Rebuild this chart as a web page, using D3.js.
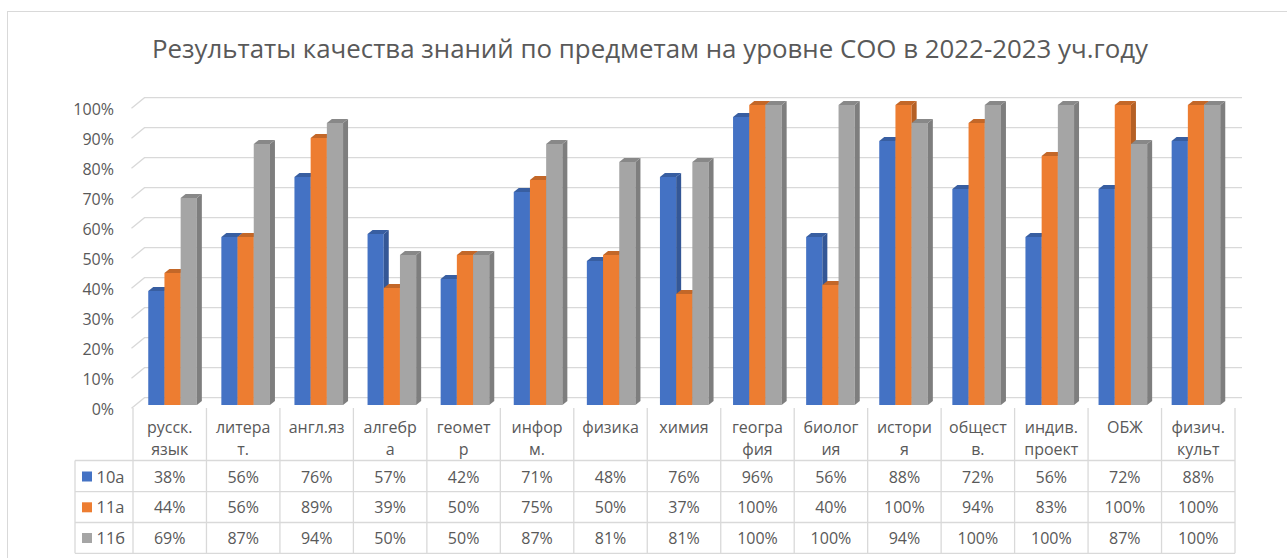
<!DOCTYPE html>
<html>
<head>
<meta charset="utf-8">
<script src="https://cdn.jsdelivr.net/npm/d3@7"></script>
<style>
  body { margin: 0; background: #fff; }
  svg { display: block; font-family: "Open Sans", "Noto Sans", sans-serif; }
</style>
</head>
<body>
<script>
// данные
const title = 'Результаты качества знаний по предметам на уровне СОО в 2022-2023 уч.году';
const categories = ['русск.\nязык', 'литера\nт.', 'англ.яз', 'алгебр\nа', 'геомет\nр', 'инфор\nм.',
  'физика', 'химия', 'геогра\nфия', 'биолог\nия', 'истори\nя', 'общест\nв.', 'индив.\nпроект', 'ОБЖ', 'физич.\nкульт'];
const seriesNames = ['10а', '11а', '11б'];
const values10a = [38, 56, 76, 57, 42, 71, 48, 76, 96, 56, 88, 72, 56, 72, 88];
const values11a = [44, 56, 89, 39, 50, 75, 50, 37, 100, 40, 100, 94, 83, 100, 100];
const values11b = [69, 87, 94, 50, 50, 87, 81, 81, 100, 100, 94, 100, 100, 87, 100];
const yTicks = [0, 10, 20, 30, 40, 50, 60, 70, 80, 90, 100];

const seriesValues = [values10a, values11a, values11b];
const colors = ['#4472C4', '#ED7D31', '#A5A5A5'];

const width = 1287;
const height = 558;
const textColor = '#595959';
const lineColor = '#d9d9d9';

const svg = d3.select('body')
  .append('svg')
  .attr('width', width)
  .attr('height', height);

// рамка диаграммы
svg.append('rect')
  .attr('x', 7.5).attr('y', 11.5)
  .attr('width', 1400).attr('height', 700)
  .attr('fill', '#fff')
  .attr('stroke', lineColor);

// заголовок
const titleText = svg.append('text')
  .attr('x', 650).attr('y', 58)
  .attr('text-anchor', 'middle')
  .attr('fill', textColor)
  .style('font-size', '22px')
  .text(title);
const tl = titleText.node().getComputedTextLength();
titleText.style('font-size', (22 * 996 / tl).toFixed(2) + 'px');

// шкалы
const yFront = d3.scaleLinear().domain([0, 100]).range([408.3, 108.3]);
const yBack = d3.scaleLinear().domain([0, 100]).range([397.7, 97.7]);
const yBar = d3.scaleLinear().domain([0, 100]).range([405, 105]);
const xCol = d3.scaleBand().domain(categories).range([133, 1235]);
const xBar = d3.scaleBand().domain(categories).range([136, 1232.5]);

// сетка
svg.append('g')
  .selectAll('path')
  .data(yTicks)
  .join('path')
  .attr('fill', 'none')
  .attr('stroke', lineColor)
  .attr('stroke-width', 1.3)
  .attr('d', (t) => `M131.5,${yFront(t)}L144.5,${yBack(t)}L1242,${yBack(t)}`);

// ось Y
svg.append('g')
  .attr('transform', 'translate(114,1.5)')
  .call(d3.axisLeft(yFront).tickValues(yTicks).tickFormat((d) => d + '%').tickSize(0).tickPadding(0))
  .call((g) => g.select('.domain').remove())
  .selectAll('text')
  .attr('fill', textColor)
  .style('font-size', '16px')
  .style('font-family', '"Open Sans", sans-serif');

// столбцы
const barW = 16.2;
const dx = 5;
const dy = 4;
const bars = svg.append('g');
categories.forEach((c, ci) => {
  seriesValues.forEach((vals, si) => {
    const v = vals[ci];
    const x0 = xBar(c) + (xBar.bandwidth() - 3 * barW) / 2 + si * barW;
    const y0 = yBar(0);
    const y1 = yBar(v);
    const base = d3.color(colors[si]);
    bars.append('rect')
      .attr('x', x0).attr('y', y1)
      .attr('width', barW).attr('height', y0 - y1)
      .attr('fill', colors[si]);
    bars.append('path')
      .attr('fill', base.darker(0.75))
      .attr('d', `M${x0 + barW},${y1}L${x0 + barW + dx},${y1 - dy}L${x0 + barW + dx},${y0 - dy}L${x0 + barW},${y0}Z`);
    bars.append('path')
      .attr('fill', base.darker(0.55))
      .attr('d', `M${x0},${y1}L${x0 + dx},${y1 - dy}L${x0 + barW + dx},${y1 - dy}L${x0 + barW},${y1}Z`);
  });
});

// таблица данных
const table = svg.append('g');
const tableTop = 408;
const rowLines = [460.5, 491.7, 522.5, 553.3];
const rowBase = [482.5, 513.3, 544];

table.selectAll('line.v')
  .data(categories.concat(['end']))
  .join('line')
  .attr('x1', (d, i) => 133 + i * xCol.bandwidth())
  .attr('x2', (d, i) => 133 + i * xCol.bandwidth())
  .attr('y1', tableTop)
  .attr('y2', rowLines[3])
  .attr('stroke', lineColor)
  .attr('stroke-width', 1.3);

table.append('line')
  .attr('x1', 75).attr('x2', 75)
  .attr('y1', rowLines[0]).attr('y2', rowLines[3])
  .attr('stroke', lineColor).attr('stroke-width', 1.3);

table.selectAll('line.h')
  .data(rowLines)
  .join('line')
  .attr('x1', 75).attr('x2', 1235)
  .attr('y1', (d) => d).attr('y2', (d) => d)
  .attr('stroke', lineColor)
  .attr('stroke-width', 1.3);

// подписи категорий
categories.forEach((c) => {
  const lines = c.split('\n');
  const t = table.append('text')
    .attr('text-anchor', 'middle')
    .attr('fill', textColor)
    .style('font-size', '16px');
  lines.forEach((ln, li) => {
    t.append('tspan')
      .attr('x', xCol(c) + xCol.bandwidth() / 2)
      .attr('y', 433 + li * 22)
      .text(ln);
  });
});

// легенда и значения
seriesNames.forEach((name, si) => {
  table.append('rect')
    .attr('x', 82).attr('y', rowBase[si] - 11)
    .attr('width', 10).attr('height', 10)
    .attr('fill', colors[si]);
  table.append('text')
    .attr('x', 96.5).attr('y', rowBase[si])
    .attr('fill', textColor)
    .style('font-size', '16.5px')
    .text(name);
  categories.forEach((c, ci) => {
    table.append('text')
      .attr('x', xCol(c) + xCol.bandwidth() / 2)
      .attr('y', rowBase[si])
      .attr('text-anchor', 'middle')
      .attr('fill', textColor)
      .style('font-size', '16px')
      .text(seriesValues[si][ci] + '%');
  });
});
</script>
</body>
</html>
